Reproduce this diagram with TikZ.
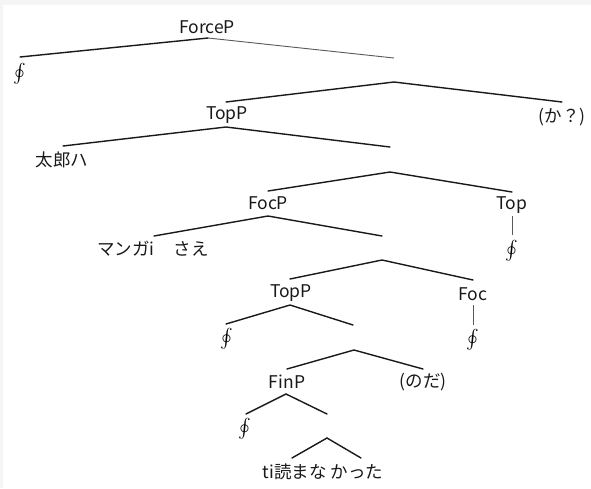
\documentclass[tikz,border=0pt]{standalone}
\usepackage{fontspec}
\setmainfont{Noto Sans CJK JP}
\usepackage{unicode-math}
\setmathfont{Latin Modern Math}
\begin{document}
\begin{tikzpicture}[x=1pt,y=-1pt,
  lbl/.style={inner sep=0pt,font=\fontsize{17.5}{20}\selectfont,text=black!90},
  nul/.style={inner sep=0pt,font=\fontsize{19}{21}\selectfont},
  br/.style={line width=1.4pt,black!90,line cap=round},
  thin/.style={line width=0.9pt,black!65}]
% page with the light strips at top and left
\fill[black!4] (0,0) rectangle (591,488);
\fill[white] (2.5,4.5) rectangle (591,488);
\useasboundingbox (0,0) rectangle (591,488);

% ---- labels ----
\node[lbl] (forcep) at (207,27) {ForceP};
\node[nul] (n1) at (20,74) {$\oint$};
\node[lbl] (topp) at (227,115) {TopP};
\node[lbl] (ka) at (562,117) {(か？)};
\node[lbl] (taro) at (62,160) {太郎ハ};
\node[lbl] (focp) at (268,203) {FocP};
\node[lbl] (manga) at (153,249) {マンガi\hspace{1.1em}さえ};
\node[lbl] (top) at (512,205) {Top};
\node[nul] (n2) at (512,251) {$\oint$};
\node[lbl] (toppb) at (291,293) {TopP};
\node[lbl] (foc) at (473,294) {Foc};
\node[nul] (n3) at (227,339) {$\oint$};
\node[nul] (n4) at (473,340) {$\oint$};
\node[lbl] (finp) at (287,382) {FinP};
\node[lbl] (noda) at (423,382) {(のだ)};
\node[nul] (n5) at (245,429) {$\oint$};
\node[lbl] (yoma) at (323,472) {ti読まな かった};

% ---- branch points ----
\coordinate (a1) at (208,38);
\coordinate (e1l) at (20,57);
\coordinate (e1r) at (394,58);
\coordinate (a2) at (394,82);
\coordinate (e2l) at (226,102);
\coordinate (e2r) at (562,102);
\coordinate (a3) at (226,127);
\coordinate (e3l) at (63,146);
\coordinate (e3r) at (390,147);
\coordinate (a4) at (390,172);
\coordinate (e4l) at (268,191);
\coordinate (e4r) at (512,192);
\coordinate (a5) at (268,216);
\coordinate (e5l) at (154,236);
\coordinate (e5r) at (382,236);
\coordinate (a6) at (382,260);
\coordinate (e6l) at (290,279);
\coordinate (e6r) at (473,280);
\coordinate (a7) at (290,305);
\coordinate (e7l) at (226,324);
\coordinate (e7r) at (353,325);
\coordinate (a8) at (354,350);
\coordinate (e8l) at (287,369);
\coordinate (e8r) at (423,369);
\coordinate (a9) at (286,394);
\coordinate (e9l) at (246,414);
\coordinate (e9r) at (327,414);
\coordinate (a10) at (327,438);
\coordinate (e10l) at (292,458);
\coordinate (e10r) at (361,458);
\coordinate (t1) at (512,216);
\coordinate (t2) at (512,235);
\coordinate (f1) at (473,305);
\coordinate (f2) at (473,325);

% ---- branches ----
\draw[br] (e1l) -- (a1);
\draw[thin] (a1) -- (e1r);
\draw[br] (e2l) -- (a2) -- (e2r);
\draw[br] (e3l) -- (a3) -- (e3r);
\draw[br] (e4l) -- (a4) -- (e4r);
\draw[br] (e5l) -- (a5) -- (e5r);
\draw[br] (e6l) -- (a6) -- (e6r);
\draw[br] (e7l) -- (a7) -- (e7r);
\draw[br] (e8l) -- (a8) -- (e8r);
\draw[br] (e9l) -- (a9) -- (e9r);
\draw[br] (e10l) -- (a10) -- (e10r);
\draw[thin] (t1) -- (t2);
\draw[thin] (f1) -- (f2);
\end{tikzpicture}
\end{document}
